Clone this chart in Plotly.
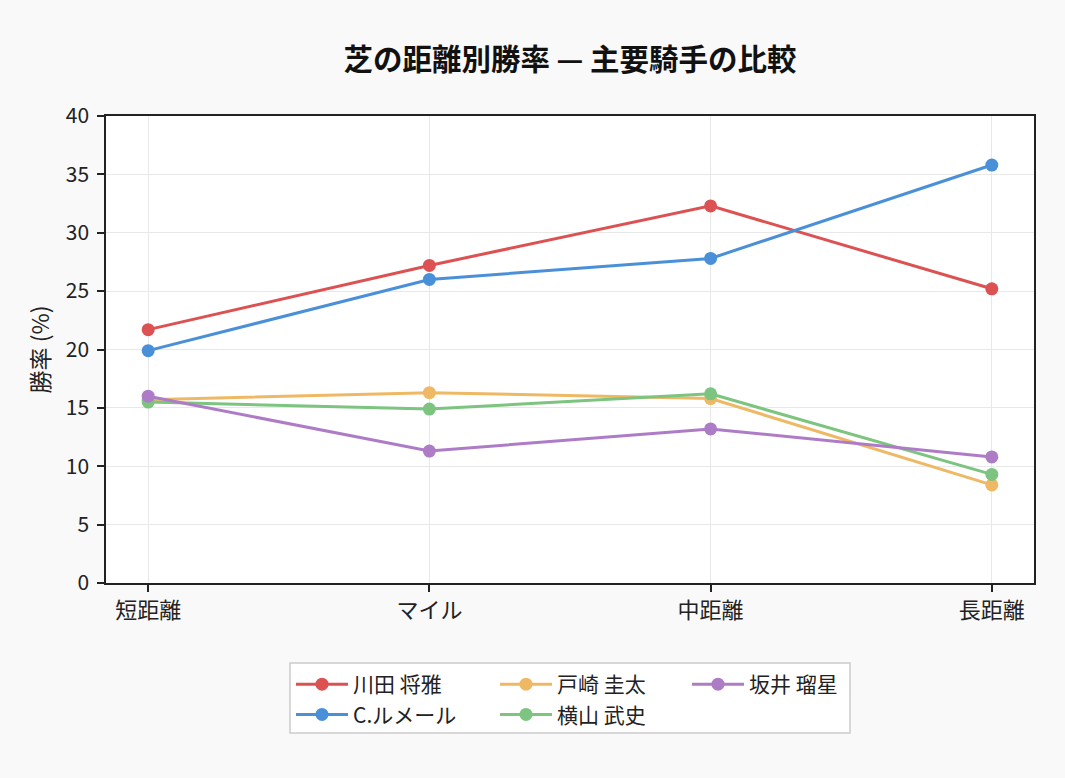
import plotly.graph_objects as go

categories = ["短距離", "マイル", "中距離", "長距離"]
kawada = [21.7, 27.2, 32.3, 25.2]
lemaire = [19.9, 26.0, 27.8, 35.8]
tosaki = [15.7, 16.3, 15.8, 8.4]
yokoyama = [15.5, 14.9, 16.2, 9.3]
sakai = [16.0, 11.3, 13.2, 10.8]

series = [
    ("川田 将雅", kawada, "#dc5252", "legend"),
    ("C.ルメール", lemaire, "#4a90d9", "legend"),
    ("戸崎 圭太", tosaki, "#efb865", "legend2"),
    ("横山 武史", yokoyama, "#7cc47f", "legend2"),
    ("坂井 瑠星", sakai, "#ae7cc7", "legend3"),
]

FONT = "Noto Sans CJK JP, Noto Sans, sans-serif"

fig = go.Figure()
for name, vals, color, lg in series:
    fig.add_trace(go.Scatter(
        x=categories, y=vals, name=name, mode="lines+markers",
        line=dict(color=color, width=3),
        marker=dict(color=color, size=13),
        legend=lg,
    ))

W, H = 1065, 778
L, R, T, B = 106, 31, 116, 195
pw, ph = W - L - R, H - T - B

def px2x(px):
    return (px - L) / pw

def py2y(py):
    return (H - B - py) / ph

leg_common = dict(
    orientation="v", bgcolor="rgba(0,0,0,0)", borderwidth=0,
    font=dict(family=FONT, size=21, color="#222"),
    xanchor="left", yanchor="top", tracegroupgap=0, itemwidth=52,
)

fig.update_layout(
    width=W, height=H,
    margin=dict(l=L, r=R, t=T, b=B),
    paper_bgcolor="#f9f9f9",
    plot_bgcolor="#ffffff",
    font=dict(family=FONT, size=20, color="#222"),
    title=dict(text="<b>芝の距離別勝率 — 主要騎手の比較</b>", x=0.5, xref="paper",
               y=1 - 60 / H, yanchor="middle", xanchor="center",
               font=dict(family=FONT, size=29.5, color="#111")),
    legend=dict(x=px2x(291), y=py2y(664), **leg_common),
    legend2=dict(x=px2x(495), y=py2y(664), **leg_common),
    legend3=dict(x=px2x(687), y=py2y(664), **leg_common),
    shapes=[dict(type="rect", xref="paper", yref="paper",
                 x0=px2x(290), x1=px2x(850), y0=py2y(733), y1=py2y(663),
                 line=dict(color="#cccccc", width=1.5), fillcolor="#ffffff", layer="below")],
    showlegend=True,
)

fig.update_xaxes(
    type="category", range=[-0.15, 3.15],
    showline=True, mirror=True, linecolor="#222", linewidth=1.5,
    ticks="outside", ticklen=7, tickcolor="#222", tickwidth=1.5,
    showgrid=True, gridcolor="#e8e8e8", gridwidth=1,
    tickfont=dict(family=FONT, size=22, color="#222"),
)
fig.update_yaxes(
    range=[0, 40], dtick=5, tick0=0,
    showline=True, mirror=True, linecolor="#222", linewidth=1.5,
    ticks="outside", ticklen=7, tickcolor="#222", tickwidth=1.5,
    showgrid=True, gridcolor="#e8e8e8", gridwidth=1, zeroline=False,
    tickfont=dict(family=FONT, size=21, color="#222"),
    ticklabelstandoff=4,
    title=dict(text="勝率 (%)", font=dict(family=FONT, size=23, color="#222"), standoff=10),
)

fig.write_html("out.html")
